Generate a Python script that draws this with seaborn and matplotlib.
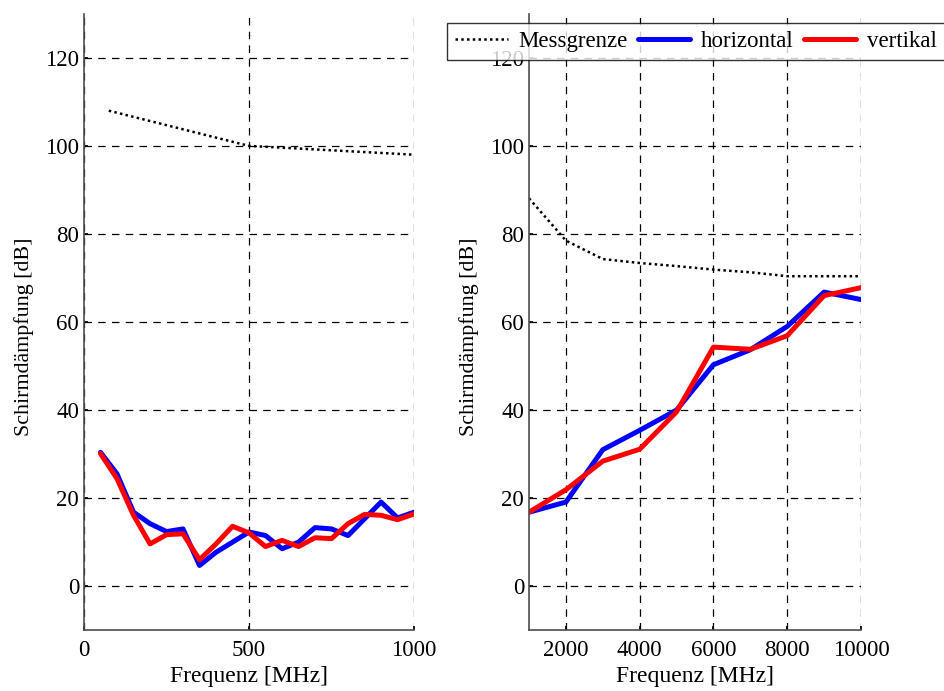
import numpy as np
import pandas as pd
import matplotlib
matplotlib.use("Agg")
import matplotlib.pyplot as plt
import seaborn as sns

# left panel: 50 ... 1000 MHz
f_low = [50, 100, 150, 200, 250, 300, 350, 400, 450, 500,
         550, 600, 650, 700, 750, 800, 850, 900, 950, 1000]
hor_low = [30.4, 25.5, 16.8, 14.2, 12.4, 13.0, 4.7, 7.7, 10.0, 12.3,
           11.5, 8.5, 10.0, 13.3, 13.0, 11.5, 15.3, 19.1, 15.5, 16.8]
ver_low = [30.1, 24.4, 16.1, 9.6, 11.7, 11.9, 6.0, 9.6, 13.6, 12.1,
           9.0, 10.4, 9.0, 11.0, 10.8, 14.2, 16.3, 16.1, 15.1, 16.4]
f_lim_low = [75, 500, 1000]
lim_low = [108.0, 100.0, 98.0]

# right panel: 1 ... 10 GHz
f_high = [1000, 2000, 3000, 4000, 5000, 6000, 7000, 8000, 9000, 10000]
hor_high = [16.8, 19.1, 31.0, 35.4, 40.0, 50.3, 53.7, 59.0, 66.8, 65.1]
ver_high = [16.8, 21.9, 28.4, 31.1, 39.6, 54.3, 53.8, 56.9, 66.0, 67.8]
lim_high = [88.1, 78.5, 74.3, 73.4, 72.7, 71.9, 71.3, 70.4, 70.4, 70.4]

sns.set_theme(style="white")
plt.rcParams['font.family'] = ['Liberation Serif', 'DejaVu Serif']
plt.rcParams['text.color'] = 'black'
plt.rcParams['axes.labelcolor'] = 'black'
FS = 16.5

fig = plt.figure(figsize=(9.44, 6.91), dpi=100)
ax1 = fig.add_axes([0.089, 0.088, 0.3496, 0.892])
ax2 = fig.add_axes([0.5604, 0.088, 0.3517, 0.892])


def panel(ax, f, hor, ver, f_lim, lim):
    sns.lineplot(x=f_lim, y=lim, ax=ax, color="black", lw=1.8,
                 linestyle=(0, (1, 1.3)), label="Messgrenze")
    sns.lineplot(x=f, y=hor, ax=ax, color="#0000ff", lw=3.6, label="horizontal")
    sns.lineplot(x=f, y=ver, ax=ax, color="#ff0000", lw=3.6, label="vertikal")
    ax.set_ylim(-10, 130)
    ax.set_yticks(np.arange(0, 121, 20))
    ax.grid(True, color="black", linestyle=(0, (6, 5)), lw=0.9)
    for s in ["top", "right"]:
        ax.spines[s].set_visible(False)
    for s in ["left", "bottom"]:
        ax.spines[s].set_color("0.3")
        ax.spines[s].set_linewidth(1.2)
    ax.tick_params(direction="in", length=3, colors="black", labelsize=FS,
                   left=True, bottom=True)
    ax.tick_params(axis="x", pad=7)
    ax.set_xlabel("Frequenz [MHz]", fontsize=17, labelpad=4)
    ax.set_ylabel("Schirmdämpfung [dB]", fontsize=15.8)
    ax.yaxis.set_label_coords(-0.152, 0.476)
    ax.get_legend().remove()


panel(ax1, f_low, hor_low, ver_low, f_lim_low, lim_low)
ax1.set_xlim(0, 1000)
ax1.set_xticks([0, 500, 1000])

panel(ax2, f_high, hor_high, ver_high, f_high, lim_high)
ax2.set_xlim(1000, 10000)
ax2.set_xticks([2000, 4000, 6000, 8000, 10000])

h, l = ax2.get_legend_handles_labels()
leg = fig.legend(h, l, loc="upper left", bbox_to_anchor=(0.4735, 0.967),
                 ncol=3, frameon=True, fancybox=False, fontsize=FS,
                 handlelength=2.3, handletextpad=0.45, columnspacing=0.45,
                 borderpad=0.35, borderaxespad=0)
leg.get_frame().set_edgecolor("black")
leg.get_frame().set_linewidth(1.0)

fig.savefig("out.png", dpi=100)
